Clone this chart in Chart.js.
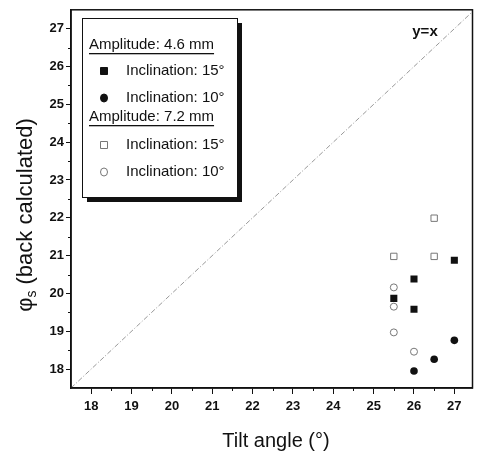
<!DOCTYPE html>
<html>
<head>
<meta charset="utf-8">
<script src="https://cdn.jsdelivr.net/npm/chart.js@4.4.1/dist/chart.umd.min.js"></script>
<style>
  html, body { margin: 0; padding: 0; background: #fff; }
  #wrap { width: 478px; height: 453px; position: relative; }
</style>
</head>
<body>
<div id="wrap"><canvas id="tiltChart"></canvas></div>
<script>
// amplitude 4.6 mm
let sq46X = [25.5, 26, 26, 27];
let sq46Y = [19.87, 20.38, 19.58, 20.88];
let ci46X = [26, 26.5, 27];
let ci46Y = [17.95, 18.26, 18.76];
// amplitude 7.2 mm
let sq72X = [25.5, 26.5, 26.5];
let sq72Y = [20.98, 21.99, 20.98];
let ci72X = [25.5, 25.5, 25.5, 26];
let ci72Y = [20.16, 19.65, 18.97, 18.46];

let lineX = [17.5, 27.5];
let lineY = [17.5, 27.5];

// tick positions (integers get labels, halves are minor)
let tickVals = [17.5, 18, 18.5, 19, 19.5, 20, 20.5, 21, 21.5, 22, 22.5, 23, 23.5, 24, 24.5, 25, 25.5, 26, 26.5, 27, 27.5];

let groupLabels = ['Amplitude: 4.6 mm', 'Amplitude: 7.2 mm'];
let seriesLabels = ['Inclination: 15°', 'Inclination: 10°', 'Inclination: 15°', 'Inclination: 10°'];

const FONT = "'Liberation Sans Narrow', 'Liberation Sans', Arial, sans-serif";

function pts(xs, ys) {
    return xs.map((x, i) => ({x: x, y: ys[i]}));
}

function setTicks(scale) {
    scale.ticks = tickVals.filter(v => v >= scale.min && v <= scale.max).map(v => ({value: v}));
}

// frame, minor ticks, titles, legend box
const decorPlugin = {
    id: 'decor',
    afterDraw(chart) {
        const ctx = chart.ctx;
        const a = chart.chartArea;
        const xs = chart.scales.x;
        const ys = chart.scales.y;
        ctx.save();
        ctx.strokeStyle = '#111';
        ctx.lineWidth = 1.5;
        ctx.strokeRect(a.left, a.top, a.right - a.left, a.bottom - a.top);

        // minor ticks
        ctx.lineWidth = 1;
        ctx.beginPath();
        tickVals.filter(v => !Number.isInteger(v)).forEach(v => {
            let px = Math.round(xs.getPixelForValue(v)) + 0.5;
            if (px > a.left + 1 && px < a.right - 1) {
                ctx.moveTo(px, a.bottom);
                ctx.lineTo(px, a.bottom + 3);
            }
            let py = Math.round(ys.getPixelForValue(v)) + 0.5;
            if (py > a.top + 1 && py < a.bottom - 1) {
                ctx.moveTo(a.left, py);
                ctx.lineTo(a.left - 3, py);
            }
        });
        ctx.stroke();

        // axis titles
        ctx.fillStyle = '#111';
        ctx.font = '20px ' + FONT;
        ctx.textAlign = 'center';
        ctx.textBaseline = 'middle';
        ctx.fillText('Tilt angle (°)', 276, 441);

        ctx.save();
        ctx.translate(24, 215);
        ctx.rotate(-Math.PI / 2);
        ctx.textAlign = 'left';
        ctx.textBaseline = 'alphabetic';
        let t1 = 'φ';
        let t2 = 's';
        let t3 = ' (back calculated)';
        ctx.font = '22px ' + FONT;
        let w1 = ctx.measureText(t1).width;
        let w3 = ctx.measureText(t3).width;
        ctx.font = '14px ' + FONT;
        let w2 = ctx.measureText(t2).width;
        let x0 = -(w1 + w2 + w3) / 2;
        ctx.font = '22px ' + FONT;
        ctx.fillText(t1, x0, 8);
        ctx.font = '14px ' + FONT;
        ctx.fillText(t2, x0 + w1, 12);
        ctx.font = '22px ' + FONT;
        ctx.fillText(t3, x0 + w1 + w2, 8);
        ctx.restore();

        // y=x label
        ctx.font = 'bold 15px ' + FONT;
        ctx.textAlign = 'center';
        ctx.fillText('y=x', 425, 32);

        // legend
        const L = {x: 82, y: 18, w: 155, h: 179};
        ctx.fillStyle = '#111';
        ctx.fillRect(L.x + 5, L.y + 5, L.w, L.h);
        ctx.fillStyle = '#fff';
        ctx.fillRect(L.x, L.y, L.w, L.h);
        ctx.lineWidth = 1;
        ctx.strokeStyle = '#111';
        ctx.strokeRect(L.x + 0.5, L.y + 0.5, L.w, L.h);

        ctx.fillStyle = '#111';
        ctx.textAlign = 'left';
        ctx.textBaseline = 'middle';
        ctx.font = '15px ' + FONT;
        let headerY = [45, 117];
        groupLabels.forEach((g, i) => {
            ctx.fillText(g, 89, headerY[i]);
            let w = ctx.measureText(g).width;
            ctx.fillRect(89, headerY[i] + 8, w, 1.3);
        });
        let rowY = [71, 98, 145, 172];
        chart.data.datasets.forEach((ds, i) => {
            if (i > 3) return;
            let cy = rowY[i];
            let cx = 104;
            ctx.fillStyle = ds.backgroundColor;
            ctx.strokeStyle = ds.borderColor;
            ctx.lineWidth = 1;
            ctx.beginPath();
            if (ds.pointStyle === 'rect') {
                ctx.rect(cx - 3.5, cy - 3.5, 7, 7);
            } else {
                ctx.ellipse(cx, cy, 3.5, 4, 0, 0, Math.PI * 2);
            }
            ctx.fill();
            ctx.stroke();
            ctx.fillStyle = '#111';
            ctx.fillText(ds.label, 126, cy);
        });
        ctx.restore();
    }
};

const chart = new Chart(document.getElementById('tiltChart'), {
    type: 'scatter',
    data: {
        datasets: [{
            label: seriesLabels[0],
            data: pts(sq46X, sq46Y),
            pointStyle: 'rect',
            pointRadius: 5,
            backgroundColor: '#111',
            borderColor: '#111',
            borderWidth: 0
        }, {
            label: seriesLabels[1],
            data: pts(ci46X, ci46Y),
            pointStyle: 'circle',
            pointRadius: 3.8,
            backgroundColor: '#111',
            borderColor: '#111',
            borderWidth: 0
        }, {
            label: seriesLabels[2],
            data: pts(sq72X, sq72Y),
            pointStyle: 'rect',
            pointRadius: 4.5,
            backgroundColor: '#fff',
            borderColor: '#777',
            borderWidth: 1
        }, {
            label: seriesLabels[3],
            data: pts(ci72X, ci72Y),
            pointStyle: 'circle',
            pointRadius: 3.5,
            backgroundColor: '#fff',
            borderColor: '#777',
            borderWidth: 1
        }, {
            label: 'y=x',
            type: 'line',
            data: pts(lineX, lineY),
            borderColor: '#999',
            borderWidth: 1,
            borderDash: [5, 2, 1, 2],
            pointRadius: 0,
            fill: false
        }]
    },
    options: {
        responsive: true,
        maintainAspectRatio: false,
        animation: false,
        layout: {padding: {top: 7, right: 4, left: 0, bottom: 0}},
        plugins: {
            legend: {display: false},
            tooltip: {enabled: false}
        },
        scales: {
            x: {
                type: 'linear',
                min: 17.5,
                max: 27.45,
                afterFit(scale) { scale.height = 65; },
                afterBuildTicks: setTicks,
                ticks: {
                    autoSkip: false,
                    maxRotation: 0,
                    padding: 5,
                    color: '#111',
                    font: {family: FONT, size: 13, weight: 'bold'},
                    callback: (v) => Number.isInteger(v) ? String(v) : ''
                },
                grid: {
                    drawOnChartArea: false,
                    tickLength: 6,
                    tickWidth: 1,
                    tickColor: (c) => Number.isInteger(c.tick && c.tick.value) ? '#111' : 'rgba(0,0,0,0)'
                },
                border: {display: true, color: '#111', width: 1.5}
            },
            y: {
                type: 'linear',
                min: 17.5,
                max: 27.5,
                afterFit(scale) { scale.width = 71; },
                afterBuildTicks: setTicks,
                ticks: {
                    autoSkip: false,
                    padding: 2,
                    color: '#111',
                    font: {family: FONT, size: 13, weight: 'bold'},
                    callback: (v) => Number.isInteger(v) ? String(v) : ''
                },
                grid: {
                    drawOnChartArea: false,
                    tickLength: 5,
                    tickWidth: 1,
                    tickColor: (c) => Number.isInteger(c.tick && c.tick.value) ? '#111' : 'rgba(0,0,0,0)'
                },
                border: {display: true, color: '#111', width: 1.5}
            }
        }
    },
    plugins: [decorPlugin]
});
</script>
</body>
</html>
